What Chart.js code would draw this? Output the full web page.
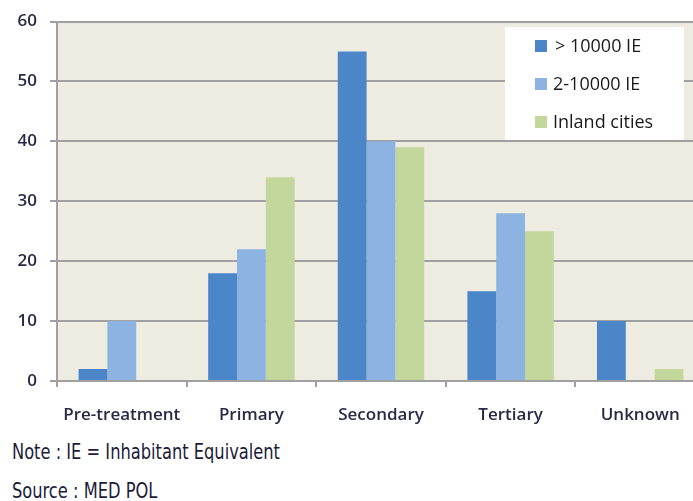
<!DOCTYPE html>
<html>
<head>
<meta charset="utf-8">
<script src="https://cdn.jsdelivr.net/npm/chart.js@4"></script>
<style>
  html, body { margin: 0; padding: 0; background: #fff; overflow: hidden; width: 693px; height: 501px; }
  #wrap { position: absolute; left: 0; top: 0; width: 705px; height: 430px; }
  .note { position: absolute; left: 12px; font-family: "DejaVu Sans", sans-serif; font-stretch: condensed; font-size: 21px; color: #1c1c3a; white-space: nowrap; line-height: 1; transform-origin: 0 0; }
</style>
</head>
<body>
<div id="wrap"><canvas id="c" width="705" height="430"></canvas></div>
<div class="note" id="n1" style="top:442px">Note : IE = Inhabitant Equivalent</div>
<div class="note" id="n2" style="top:481px">Source : MED POL</div>
<script>
const categories = ["Pre-treatment", "Primary", "Secondary", "Tertiary", "Unknown"];
const seriesNames = ["> 10000 IE", "2-10000 IE", "Inland cities"];
const bigCities = [2, 18, 55, 15, 10];
const smallCities = [10, 22, 40, 28, 0];
const inlandCities = [0, 34, 39, 25, 2];
const yTicks = [0, 10, 20, 30, 40, 50, 60];
const colors = ["#4a86c8", "#8db3e2", "#c3d69b"];

// condense the note lines to match the narrow source typeface
(function () {
  const n1 = document.getElementById('n1');
  const w = n1.getBoundingClientRect().width;
  const k = 268 / w;
  document.querySelectorAll('.note').forEach(el => { el.style.transform = 'scaleX(' + k + ')'; });
})();

const bgPlugin = {
  id: 'bg',
  beforeDraw(chart) {
    const {ctx, chartArea: a} = chart;
    ctx.save();
    ctx.fillStyle = '#eeece1';
    ctx.fillRect(a.left, a.top, a.right - a.left, a.bottom - a.top);
    ctx.restore();
  }
};

const legendPlugin = {
  id: 'boxLegend',
  afterDraw(chart) {
    const ctx = chart.ctx;
    ctx.save();
    ctx.fillStyle = '#ffffff';
    ctx.fillRect(505, 27, 179, 113);
    ctx.font = '18px "Open Sans", sans-serif';
    ctx.textBaseline = 'middle';
    chart.data.datasets.forEach((ds, i) => {
      const cy = 46 + i * 38;
      ctx.fillStyle = ds.backgroundColor;
      ctx.fillRect(535, cy - 6, 12, 12);
      ctx.fillStyle = '#1a1a1a';
      ctx.fillText(ds.label, i === 0 ? 555 : 553, cy + 1);
    });
    ctx.restore();
  }
};

new Chart(document.getElementById('c'), {
  type: 'bar',
  data: {
    labels: categories,
    datasets: [
      { label: seriesNames[0], data: bigCities, backgroundColor: colors[0] },
      { label: seriesNames[1], data: smallCities, backgroundColor: colors[1] },
      { label: seriesNames[2], data: inlandCities, backgroundColor: colors[2] }
    ]
  },
  options: {
    responsive: false,
    animation: false,
    layout: { padding: { top: 8, right: 0, left: 0, bottom: 0 } },
    plugins: { legend: { display: false }, tooltip: { enabled: false } },
    datasets: { bar: { categoryPercentage: 0.667, barPercentage: 1.0 } },
    scales: {
      x: {
        grid: { drawOnChartArea: false, drawTicks: true, tickLength: 6, color: '#a0a0a0', lineWidth: 2 },
        border: { color: '#a0a0a0', width: 2 },
        ticks: { font: { family: '"Open Sans", sans-serif', size: 17, weight: '600' }, color: '#2a2a48', padding: 18, maxRotation: 0, autoSkip: false },
        afterFit(s) { s.height = 430 - 381; }
      },
      y: {
        min: 0, max: 60,
        afterBuildTicks(s) { s.ticks = yTicks.map(v => ({ value: v })); },
        grid: { color: '#a0a0a0', lineWidth: 2, tickLength: 7 },
        border: { color: '#a0a0a0', width: 2 },
        ticks: { font: { family: '"Open Sans", sans-serif', size: 17, weight: '600', lineHeight: 1.0 }, color: '#2a2a48', padding: 13 },
        afterFit(s) { s.width = 57; }
      }
    }
  },
  plugins: [bgPlugin, legendPlugin]
});
</script>
</body>
</html>
